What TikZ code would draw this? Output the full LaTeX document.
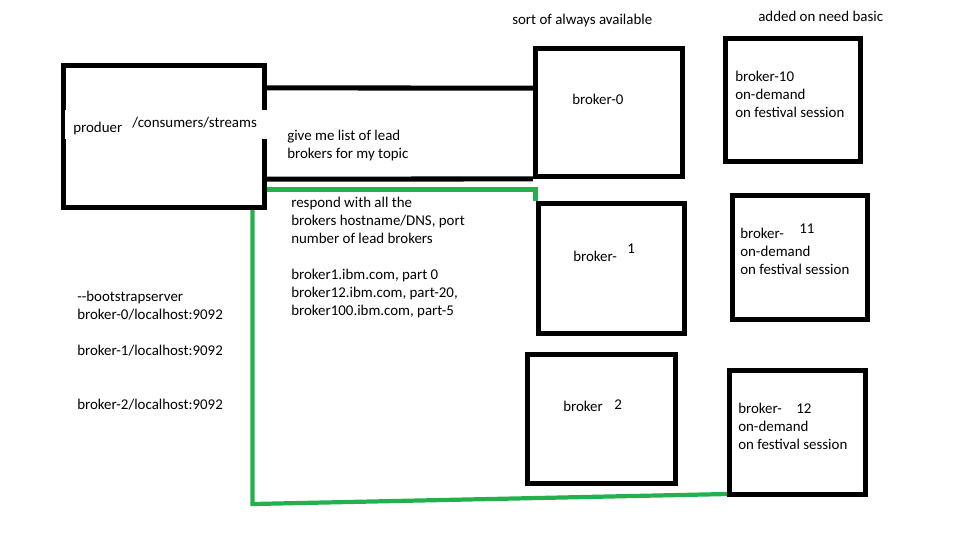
\documentclass[tikz,border=0pt]{standalone}
\usepackage{fontspec}
\setmainfont{Carlito}
\usetikzlibrary{positioning,calc}
\definecolor{paintgreen}{RGB}{34,177,76}

\begin{document}
\begin{tikzpicture}[x=0.025cm, y=-0.025cm, font=\fontsize{10.6}{12.8}\selectfont]
    % Stili
    \tikzstyle{server}=[rectangle, draw=black, line width=3.56pt, inner sep=0pt]
    \tikzstyle{txt}=[anchor=base west, align=left, inner sep=0pt]
    \tikzstyle{mask}=[anchor=base west, fill=white, inner ysep=0pt]
    \tikzstyle{link}=[draw=black, line width=3.56pt]
    \tikzstyle{reply}=[draw=paintgreen, line width=3pt]

    \useasboundingbox (0,0) rectangle (960,540);

    % Nodi
    \node (prod) [server, minimum width=143pt, minimum height=101pt] at (164,136.5) {};
    \node (b0)  [server, minimum width=104.6pt, minimum height=91pt] at (609,112.5) {};
    \node (b1)  [server, minimum width=104.2pt, minimum height=92.1pt] at (611.3,268.3) {};
    \node (b2)  [server, minimum width=104.9pt, minimum height=91.8pt] at (601.3,419) {};
    \node (b10) [server, minimum width=96pt, minimum height=87.5pt] at (793,100) {};
    \node (b11) [server, minimum width=96pt, minimum height=88.2pt] at (799.5,257.5) {};
    \node (b12) [server, minimum width=96.7pt, minimum height=88.2pt] at (797.5,432.5) {};

    % Etichette del client
    \node (produer) [mask, inner xsep=5.7pt, text height=15.6pt, text depth=5pt] at (65,132) {produer};
    \node (streams) [mask, inner xsep=2.85pt, text height=12.1pt, text depth=8.5pt,
        text width=93.2pt, align=left] at (128,127) {/consumers/streams};

    % Collegamenti
    \draw [link] ($(prod.north east)+(0,25)$) -- ($(b0.north west)+(0,42)$);
    \draw [link] ($(prod.south east)+(0,-31)$) -- (b0.south west);
    \draw [reply] ($(prod.south east)+(0,-20.5)$) -| (b1.north west);
    \draw [reply] ($(prod.south east)+(-14.5,0)$) -- ++(0,294) -- ($(b12.south west)+(0,-3)$);

    % Testi (base = ultima riga)
    \node (always) [txt] at (512,24) {sort of always available};
    \node (need) [txt] at (758,21) {added on need basic};
    \node (t0) [txt] at (572,104) {broker-0};
    \node (t1) [txt] at (573,261) {broker-};
    \node (n1) [txt] at (627,253) {1};
    \node (t2) [txt] at (563,411) {broker};
    \node (n2) [txt] at (614,409) {2};
    \node (t10) [txt] at (735,117) {broker-10\\on-demand\\on festival session};
    \node (t11) [txt] at (740,274) {broker-\\on-demand\\on festival session};
    \node (n11) [txt] at (799,233) {11};
    \node (t12) [txt] at (738,449) {broker-\\on-demand\\on festival session};
    \node (n12) [txt] at (796,413) {12};
    \node (ask) [txt] at (287,158) {give me list of lead\\brokers for my topic};
    \node (answer) [txt] at (291,315) {respond with all the\\brokers hostname/DNS, port\\number of lead brokers\\~\\broker1.ibm.com, part 0\\broker12.ibm.com, part-20,\\broker100.ibm.com, part-5};
    \node (bootstrap) [txt] at (77,409) {-{}-bootstrapserver\\broker-0/localhost:9092\\~\\broker-1/localhost:9092\\~\\~\\broker-2/localhost:9092};
\end{tikzpicture}
\end{document}
